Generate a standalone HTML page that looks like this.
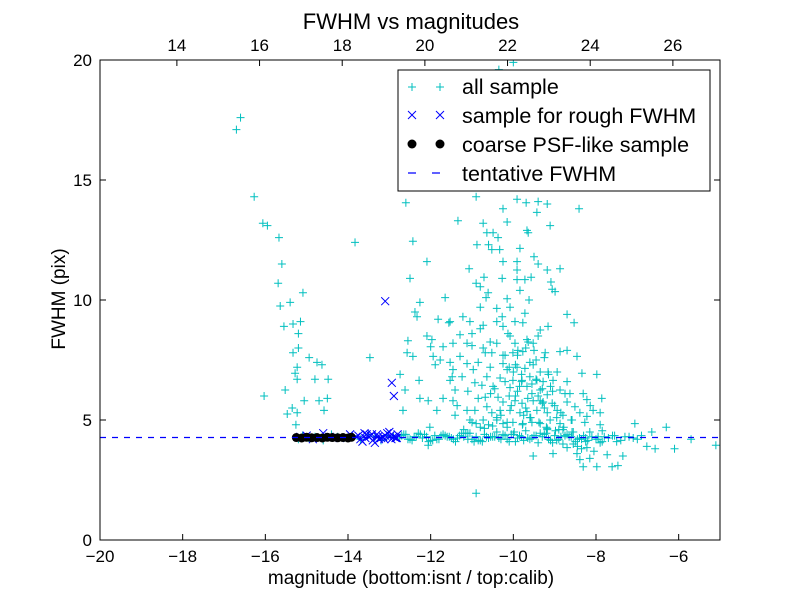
<!DOCTYPE html>
<html><head><meta charset="utf-8"><style>
body{margin:0;background:#fff}
svg{display:block;font-family:"Liberation Sans",sans-serif}
</style></head><body>
<svg id="chart" width="800" height="600">
<rect x="0" y="0" width="800" height="600" fill="#fff"/>
<g id="plot"></g>
<g id="axes"></g>
<text x="411" y="29" font-size="22" text-anchor="middle">FWHM vs magnitudes</text>
<text x="411" y="584" font-size="19" text-anchor="middle">magnitude (bottom:isnt / top:calib)</text>
<text x="0" y="0" font-size="19" text-anchor="middle" transform="translate(65,299) rotate(-90)">FWHM (pix)</text>
<g>
<rect x="398" y="70" width="312" height="121" fill="#fff" stroke="#000"/>
<g>
<path d="M408,87h8M412,83v8M436,87h8M440,83v8" stroke="#00bfbf" fill="none"/>
<text x="462" y="94" font-size="21.5">all sample</text></g>
<g>
<path d="M408,111l8,8M408,119l8,-8M436,111l8,8M436,119l8,-8" stroke="#0000ff" fill="none"/>
<text x="462" y="123" font-size="21.5">sample for rough FWHM</text></g>
<g>
<circle cx="412" cy="144" r="4.5" fill="#000"/><circle cx="440" cy="144" r="4.5" fill="#000"/>
<text x="462" y="152" font-size="21.5">coarse PSF-like sample</text></g>
<g>
<path d="M408,173h8M432,173h8" stroke="#0000ff" stroke-width="1.2"/>
<text x="462" y="181" font-size="21.5">tentative FWHM</text></g>
</g>
</svg>
<script>
const xTicks=[-20,-18,-16,-14,-12,-10,-8,-6];
const yTicks=[0,5,10,15,20];
const topTicks=[14,16,18,20,22,24,26];
const calibOffset=32.14;
const tentativeFWHM=4.27;
const allX=[-16.7,-16.6,-16.27,-16.06,-15.95,-15.67,-15.6,-15.69,-15.09,-15.64,-15.4,-15.33,-15.55,-15.2,-15.33,-15.2,-14.94,-14.75,-14.63,-14.48,-14.8,-15.23,-15.52,-16.03,-15.06,-14.7,-14.5,-14.58,-15.35,-15.47,-15.23,-15.26,-15.28,-15.23,-15.15,
-13.83,-13.47,-12.6,-12.43,-12.09,-12.5,-11.65,-12.26,-12.38,-12.33,-11.82,-11.56,-12.55,-12.57,-12.43,-12.09,-11.97,-12.0,-12.74,-12.62,-12.67,-12.28,-12.26,-12.06,-11.85,-12.02,-11.77,-11.46,-11.53,-11.46,-11.41,
-11.34,-10.9,-10.25,-10.15,-9.91,-9.69,-9.4,-9.18,-8.41,-9.43,-9.11,-10.73,-10.64,-10.49,-10.37,-9.67,-9.64,-10.88,-10.6,-10.52,-10.33,-9.84,-9.5,-10.25,-9.91,-9.4,-11.07,-9.91,-9.18,-8.87,-10.71,-10.27,-9.91,-9.72,-9.57,-9.09,-10.9,-10.8,-9.06,-8.99,-9.84,-10.61,-10.66,-10.15,-10.08,-10.8,-9.62,-10.4,
-11.22,-11.05,-11.53,-10.27,-10.4,-10.25,-9.96,-9.72,-9.77,-8.7,-8.53,-9.16,-9.35,-9.4,-10.73,-10.8,-11.29,-11.0,-10.13,-10.08,-9.67,-11.12,-11.0,-11.46,-11.7,-10.56,-10.4,-9.96,-9.89,-9.64,-9.52,-9.23,-8.87,-8.7,-8.46,-10.73,-10.68,-10.52,-10.25,-10.01,-9.77,-11.29,-11.94,-11.89,-11.53,-11.12,-10.85,-10.97,-10.56,-10.25,-10.15,-9.91,-9.72,-9.52,-9.35,-9.16,-8.94,-8.34,-7.98,
-11.48,-11.24,-10.64,-10.32,-10.01,-9.79,-9.6,-9.43,-9.28,-9.04,-8.7,-10.93,-10.76,-10.49,-10.08,-9.67,-9.55,-9.35,-9.18,-8.87,-8.63,-8.31,-8.22,-7.86,-11.41,-11.1,-10.85,-10.68,-10.37,-10.25,-9.96,-9.79,-9.52,-9.28,-9.06,-8.7,-8.51,-8.14,-8.07,
-11.36,-11.12,-10.93,-10.64,-10.52,-10.32,-10.08,-9.84,-9.67,-9.43,-9.18,-8.94,-8.8,-8.39,-8.22,-7.9,-11.05,-10.73,-10.4,-10.25,-10.01,-9.77,-9.55,-9.35,-9.11,-8.87,-8.58,-8.27,-7.9,-7.06,-10.15,-9.18,
-9.52,-9.04,-8.46,-8.39,-8.31,-7.98,-7.61,-7.47,-7.73,-7.35,-6.77,-6.57,-8.7,-8.22,-12.06,-6.65,-6.3,-6.1,-5.7,-5.1,-10.9,-10.0,-10.35,-11.7,-9.3,-10.1,-9.8,-9.45,-10.45,-9.95,-10.2,-9.6,-9.9,-10.3,-9.7,-10.55,-9.25,
-10.05,-9.85,-9.65,-9.45,-9.25,-9.05,-8.85,-10.15,-9.95,-9.75,-9.55,-9.35,-9.15,-8.95,-8.75,-10.0,-9.8,-9.6,-9.4,-9.2,-9.0,-8.8,-8.6,-10.1,-9.9,-9.7,-9.5,-9.3,-9.1,-8.9,-10.2,-9.98,-9.78,-9.58,-9.38,-9.18,-8.98,-8.78,-8.58,-10.4,-10.6,-10.8,-11.0,-11.2,-10.5,-10.7,-10.9,-11.1,-8.45,-8.25,-8.05,-7.85,-8.55,-8.35,-8.15,-7.95,
-15.2,-15.1,-14.95,-14.8,-14.6,-14.4,-14.25,-14.1,-13.9,-13.7,-13.5,-13.35,-13.2,-13.05,-12.9,-12.75,-12.6,-12.5,-12.4,-12.3,-12.2,-12.1,-12.0,-11.9,-11.8,-11.7,-11.6,-11.5,-11.4,-11.3,-11.2,-11.1,-11.0,-10.9,-10.8,-10.7,-10.6,-10.5,-10.4,-10.3,-10.2,-10.1,-10.0,-9.9,-9.8,-9.7,-9.6,-9.5,-9.4,-9.3,-9.2,-9.1,-9.0,-8.9,-8.8,-8.7,-8.6,-8.5,-8.4,-8.3,-8.2,-8.1,-8.0,-7.9,-7.8,-7.7,-7.6,-7.5,-7.3,-7.1,-6.9,-12.45,-12.15,-11.85,-11.55,-11.25,-10.95,-10.65,-10.35,-10.05,-9.75,-9.45,-9.15,-8.85,-8.55,-8.25,-7.95,-12.65,-12.35,-11.95,-11.65,-11.35,-11.05,-10.75,-10.45,-10.15,-9.85,-9.55,-9.25,-8.95,-8.65,-8.35,
-12.7,-12.55,-12.25,-12.05,-11.75,-11.45,-11.15,-10.85,-10.55,-10.25,-9.95,-9.65,-9.35,-9.05,-8.75,-8.45,-8.15,-7.85,-7.55,-7.4,-7.2,-7.0];
const allY=[17.1,17.6,14.3,13.2,13.1,12.6,11.5,10.7,10.3,9.75,9.9,9.0,8.9,8.6,7.8,8.0,7.6,7.4,7.3,6.7,6.7,6.7,6.25,6.0,5.8,5.8,5.9,5.4,5.5,5.25,5.3,4.8,6.95,7.2,9.1,
12.4,7.6,14.05,12.45,11.6,10.9,10.1,9.9,9.5,9.3,9.2,9.05,8.3,7.8,7.65,8.5,8.35,8.05,6.9,6.25,5.4,6.65,5.9,5.8,5.4,4.7,7.5,7.1,6.65,5.8,5.2,
13.3,14.3,13.8,13.25,14.2,14.05,14.1,14.0,13.8,13.65,13.1,13.2,12.8,12.8,12.6,12.9,12.8,12.3,12.3,12.1,12.1,12.15,11.8,11.6,11.6,11.5,11.3,11.25,11.25,11.3,10.95,10.9,10.85,10.85,10.95,10.75,10.7,10.55,10.45,10.35,10.4,10.3,10.1,10.05,9.7,9.7,10.0,9.65,
9.3,9.1,9.1,9.3,9.1,8.9,9.1,9.45,9.05,9.4,9.05,8.9,8.75,8.5,8.95,8.8,8.55,8.6,8.6,8.5,8.35,8.2,8.1,8.2,8.05,8.25,8.2,8.2,7.9,8.25,8.2,7.8,7.85,7.9,7.65,8.0,7.8,7.8,7.7,7.8,7.85,7.65,7.65,7.3,7.4,7.35,7.4,7.1,7.2,7.35,7.1,7.2,7.15,7.3,7.0,7.0,7.0,6.95,6.9,
6.8,6.8,6.8,6.75,6.65,6.65,6.8,6.65,6.6,6.65,6.6,6.55,6.45,6.4,6.35,6.4,6.1,6.25,6.05,6.25,6.1,6.1,5.85,5.9,6.25,6.2,5.9,5.95,5.95,5.75,5.8,5.7,5.8,5.75,5.7,5.75,5.55,5.6,5.4,
5.6,5.4,5.4,5.55,5.3,5.4,5.4,5.3,5.35,5.4,5.3,5.4,5.2,5.3,5.15,5.3,5.0,5.0,5.1,4.85,4.9,4.85,4.9,4.85,5.0,4.85,5.0,4.9,4.8,4.85,4.7,4.65,
3.5,3.6,3.6,3.35,3.05,3.05,3.05,3.1,3.55,3.5,3.9,3.8,3.85,3.85,3.95,4.5,4.7,3.8,4.2,3.95,1.95,19.9,19.6,5.9,6.3,6.0,6.9,7.5,6.3,7.3,7.7,5.1,6.2,5.2,8.0,6.1,7.6,
5.6,6.4,5.9,6.7,5.5,6.2,5.3,4.9,6.0,5.2,6.5,5.8,6.9,5.1,6.1,7.0,6.6,7.4,6.0,4.7,5.6,4.6,5.0,7.2,7.7,5.5,7.9,5.7,6.4,4.6,6.6,4.5,4.8,5.1,4.9,4.6,4.55,4.7,4.5,5.0,4.8,4.7,4.9,4.6,4.75,4.65,4.85,4.2,3.9,4.1,3.7,4.55,4.0,3.8,3.4,
4.3,4.2,4.35,4.25,4.3,4.15,4.4,4.3,4.25,4.35,4.2,4.4,4.3,4.15,4.35,4.3,4.25,4.4,4.2,4.3,4.45,4.25,4.3,4.15,4.35,4.2,4.4,4.3,4.25,4.1,4.35,4.3,4.45,4.2,4.3,4.15,4.4,4.25,4.3,4.5,4.2,4.35,4.1,4.4,4.25,4.3,4.55,4.2,4.35,4.05,4.3,4.45,4.15,4.35,4.2,4.0,4.4,4.3,4.1,4.25,4.35,4.15,4.3,4.2,4.05,4.3,4.25,4.35,4.1,4.3,4.25,4.35,4.15,4.4,4.2,4.3,4.45,4.1,4.3,4.25,4.4,4.15,4.35,4.2,4.3,4.5,4.25,4.2,4.4,4.3,4.15,4.35,4.25,4.45,4.1,4.3,4.2,4.35,4.25,4.4,4.15,4.3,4.2,4.35,
4.2,4.4,4.1,4.35,4.2,4.45,4.15,4.3,4.4,4.1,4.25,4.45,4.05,4.35,4.2,4.5,4.1,4.35,4.15,4.3,4.2,4.25];
const roughX=[-15.15,-15.0,-14.85,-14.6,-14.45,-14.2,-13.95,-13.8,-13.7,-13.6,-13.5,-13.4,-13.3,-13.2,-13.1,-13.0,-12.9,-12.8,-13.65,-13.45,-13.25,-13.05,-12.85,-13.55,-13.35,-13.15,-12.95,-13.75,-13.58,-13.42,-13.28,-13.12,-12.98,-12.82,-13.1,-12.94,-12.89];
const roughY=[4.3,4.35,4.2,4.45,4.3,4.25,4.4,4.3,4.2,4.45,4.3,4.15,4.4,4.25,4.35,4.5,4.3,4.4,4.1,4.35,4.2,4.45,4.25,4.4,4.05,4.3,4.2,4.35,4.25,4.4,4.3,4.2,4.35,4.25,9.95,6.55,6.0];
const psfX=[-15.25,-15.12,-15.0,-14.88,-14.75,-14.62,-14.5,-14.38,-14.25,-14.12,-14.0,-13.92];
const psfY=[4.27,4.25,4.28,4.26,4.27,4.25,4.28,4.27,4.26,4.27,4.25,4.28];

const L=100,R=720,T=60,B=540,xmin=-20,xmax=-5,ymin=0,ymax=20;
const sx=v=>L+(v-xmin)/(xmax-xmin)*(R-L);
const sy=v=>B-(v-ymin)/(ymax-ymin)*(B-T);
const NS="http://www.w3.org/2000/svg";
function mk(tag,attrs,parent){const e=document.createElementNS(NS,tag);for(const k in attrs)e.setAttribute(k,attrs[k]);parent.appendChild(e);return e;}
const plot=document.getElementById('plot'),axes=document.getElementById('axes');
const cp=mk('clipPath',{id:'clip'},plot);
mk('rect',{x:L,y:T,width:R-L,height:B-T},cp);
const pg=mk('g',{'clip-path':'url(#clip)'},plot);
const gAll=mk('g',{},pg);


for(let i=0;i<allX.length;i++){const x=sx(allX[i]),y=sy(allY[i]);
 const p=mk('path',{d:`M${x-4},${y}H${x+4}M${x},${y-4}V${y+4}`,stroke:'#00bfbf','stroke-width':1,fill:'none'},gAll);
 
 }
const gR=mk('g',{},pg);


for(let i=0;i<roughX.length;i++){const x=sx(roughX[i]),y=sy(roughY[i]);
 const p=mk('path',{d:`M${x-4},${y-4}L${x+4},${y+4}M${x-4},${y+4}L${x+4},${y-4}`,stroke:'#0000ff','stroke-width':1,fill:'none'},gR);
 
 }
const gP=mk('g',{},pg);


for(let i=0;i<psfX.length;i++){const c=mk('circle',{cx:sx(psfX[i]),cy:sy(psfY[i]),r:4.5,fill:'#000'},gP);
 
 }
const tl=mk('line',{x1:L,x2:R,y1:sy(tentativeFWHM),y2:sy(tentativeFWHM),stroke:'#0000ff','stroke-width':1.2,'stroke-dasharray':'6,6'},pg);



const fr=mk('rect',{x:L,y:T,width:R-L,height:B-T,fill:'none',stroke:'#000','stroke-width':1},axes);


for(const v of xTicks){const x=sx(v);
 mk('path',{d:`M${x},${B}v-6`,stroke:'#000'},axes);
 const t=mk('text',{x:x,y:B+22,'font-size':17,'text-anchor':'middle'},axes);t.textContent=(v<0?'\u2212'+(-v):v);
 
 }
for(const v of yTicks){const y=sy(v);
 mk('path',{d:`M${L},${y}h6M${R},${y}h-6`,stroke:'#000'},axes);
 const t=mk('text',{x:L-8,y:y+6,'font-size':17,'text-anchor':'end'},axes);t.textContent=v;
 
 }
for(const v of topTicks){const x=sx(v-calibOffset);
 mk('path',{d:`M${x},${T}v6`,stroke:'#000'},axes);
 const t=mk('text',{x:x,y:T-9,'font-size':17,'text-anchor':'middle'},axes);t.textContent=v;
 
 }
</script>
</body></html>
